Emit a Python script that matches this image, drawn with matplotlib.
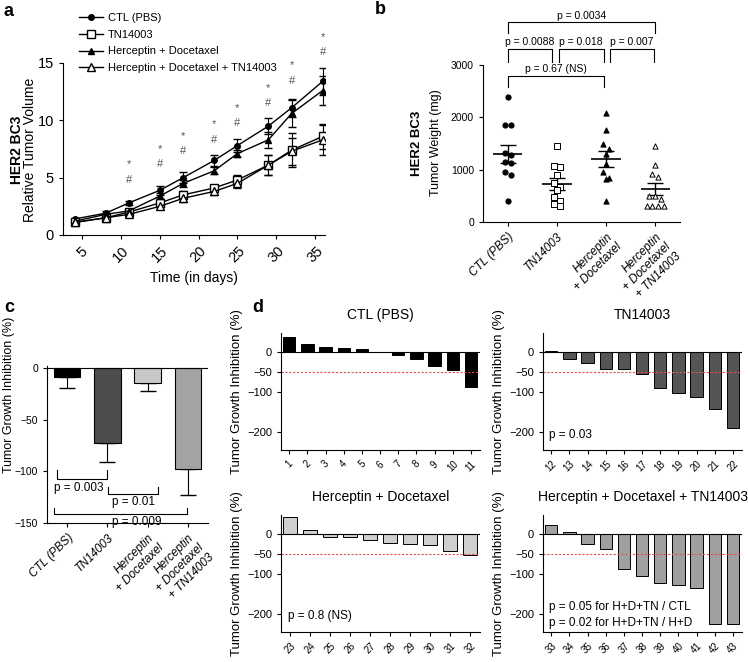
import numpy as np
import matplotlib
matplotlib.use("Agg")
import matplotlib.pyplot as plt
from matplotlib.lines import Line2D

plt.rcParams['font.family'] = ['Liberation Sans', 'DejaVu Sans']

# ---- panel a: relative tumor volume over time ----
days = [4, 8, 11, 15, 18, 22, 25, 29, 32, 36]
ctl_vol = [1.4, 1.9, 2.8, 3.9, 5.0, 6.5, 7.8, 9.5, 11.1, 13.4]
ctl_err = [0.1, 0.15, 0.15, 0.4, 0.5, 0.5, 0.6, 0.7, 0.8, 1.2]
tn_vol = [1.1, 1.5, 2.0, 2.8, 3.5, 4.1, 4.8, 6.1, 7.4, 8.6]
tn_err = [0.1, 0.15, 0.15, 0.3, 0.3, 0.3, 0.4, 0.9, 1.5, 1.1]
hd_vol = [1.2, 1.8, 2.1, 3.4, 4.5, 5.6, 7.1, 8.3, 10.6, 12.6]
hd_err = [0.1, 0.15, 0.15, 0.3, 0.3, 0.3, 0.3, 0.7, 1.2, 1.3]
hdt_vol = [1.1, 1.5, 1.8, 2.5, 3.2, 3.8, 4.5, 6.1, 7.3, 8.3]
hdt_err = [0.1, 0.1, 0.15, 0.25, 0.3, 0.3, 0.4, 0.9, 1.2, 1.3]
sig_days = [11, 15, 18, 22, 25, 29, 32, 36]
star_y = [6.2, 7.5, 8.6, 9.7, 11.1, 12.85, 14.8, 17.3]
hash_y = [4.8, 6.2, 7.3, 8.3, 9.8, 11.5, 13.4, 16.0]

# ---- panel b: tumor weight ----
groups = ['CTL (PBS)', 'TN14003', 'Herceptin\n+ Docetaxel', 'Herceptin\n+ Docetaxel\n+ TN14003']
w_ctl = [2394, 1850, 1850, 1310, 1280, 1150, 1120, 960, 895, 400]
w_tn = [1455, 1070, 1050, 895, 750, 670, 610, 480, 400, 340, 305]
w_hd = [2074, 1755, 1490, 1400, 1290, 1115, 960, 850, 830, 400]
w_hdt = [1455, 1085, 910, 860, 500, 500, 430, 300, 300, 300, 300]
w_mean = [1300, 730, 1200, 635]
w_sem = [170, 110, 150, 115]

# ---- panel c: mean tumor growth inhibition ----
tgi_mean = [-9, -73, -14, -98]
tgi_err = [10, 18, 8, 25]

# ---- panel d: individual tumors ----
ids_ctl = list(range(1, 12))
tgi_ctl = [37, 21, 14, 10, 7, 0, -8, -17, -35, -44, -86]
ids_tn = list(range(12, 23))
tgi_tn = [2, -18, -27, -42, -41, -55, -89, -102, -113, -143, -189]
ids_hd = list(range(23, 33))
tgi_hd = [42, 10, -7, -8, -15, -21, -25, -26, -43, -53]
ids_hdt = list(range(33, 44))
tgi_hdt = [22, 5, -25, -38, -86, -106, -123, -128, -135, -225, -225]

W, H = 748, 662
fig = plt.figure(figsize=(W / 100, H / 100), dpi=100)


def px_axes(l, t, r, b):
    return fig.add_axes([l / W, 1 - b / H, (r - l) / W, (b - t) / H])


def clean(ax):
    ax.spines['top'].set_visible(False)
    ax.spines['right'].set_visible(False)
    ax.tick_params(direction='out', length=3, width=0.8)


# ================= a =================
ax = px_axes(63, 63, 325, 235)
clean(ax)
styles = [
    (ctl_vol, ctl_err, 'o', 'black', 'CTL (PBS)', 4),
    (tn_vol, tn_err, 's', 'white', 'TN14003', 5.5),
    (hd_vol, hd_err, '^', 'black', 'Herceptin + Docetaxel', 4),
    (hdt_vol, hdt_err, '^', 'white', 'Herceptin + Docetaxel + TN14003', 5.5),
]
handles = []
for vals, err, mk, fc, lab, ms in styles:
    ax.errorbar(days, vals, yerr=err, color='black', marker=mk, mfc=fc, mec='black',
                ms=ms, lw=1.0, elinewidth=0.8, capsize=3)
    handles.append(Line2D([], [], color='black', marker=mk, mfc=fc, mec='black', ms=ms, lw=1.0))
for d, sy, hy in zip(sig_days, star_y, hash_y):
    ax.text(d, sy, '*', ha='center', va='center', fontsize=8, color='#555555', clip_on=False)
    ax.text(d, hy, '#', ha='center', va='center', fontsize=8, color='#555555', clip_on=False)
ax.set_xlim(2.5, 36.3)
ax.set_ylim(0, 15)
ax.set_xticks([5, 10, 15, 20, 25, 30, 35])
ax.set_yticks([0, 5, 10, 15])
ax.tick_params(axis='both', labelsize=10.5)
for t in ax.get_xticklabels():
    t.set_rotation(45)
ax.set_xlabel('Time (in days)', fontsize=10)
fig.text(17 / W, 1 - 150 / H, 'HER2 BC3', rotation=90, ha='center', va='center',
         fontsize=10, fontweight='bold')
fig.text(30 / W, 1 - 150 / H, 'Relative Tumor Volume', rotation=90, ha='center', va='center',
         fontsize=10)
fig.legend(handles, [s[4] for s in styles], loc='upper left', bbox_to_anchor=(72 / W, 1 - 6 / H),
           frameon=False, fontsize=8, handlelength=2.2, labelspacing=0.62, handletextpad=0.4,
           borderaxespad=0.2)
fig.text(4 / W, 1 - 12 / H, 'a', fontsize=13, fontweight='bold', va='center')

# ================= b =================
ax = px_axes(483, 65, 680, 222)
clean(ax)


def swarm(vals, pos, step=0.12, tol=120):
    vals = sorted(vals, reverse=True)
    xs, ys = [], []
    i = 0
    while i < len(vals):
        j = i
        while j + 1 < len(vals) and vals[i] - vals[j + 1] < tol:
            j += 1
        n = j - i + 1
        offs = (np.arange(n) - (n - 1) / 2) * step
        xs.extend(pos + offs)
        ys.extend(vals[i:j + 1])
        i = j + 1
    return xs, ys


sets = [(w_ctl, 'o', 'black'), (w_tn, 's', 'white'), (w_hd, '^', 'black'), (w_hdt, '^', 'white')]
for k, (vals, mk, fc) in enumerate(sets):
    xs, ys = swarm(vals, k + 1)
    ax.scatter(xs, ys, marker=mk, s=14, facecolor=fc, edgecolor='black', lw=0.7, zorder=3)
    ax.hlines(w_mean[k], k + 1 - 0.3, k + 1 + 0.3, color='black', lw=1.2)
    ax.errorbar(k + 1, w_mean[k], yerr=w_sem[k], fmt='none', ecolor='black', capsize=6, lw=1.0)
ax.set_xlim(0.5, 4.5)
ax.set_ylim(0, 3000)
ax.set_yticks([0, 1000, 2000, 3000])
ax.set_xticks([1, 2, 3, 4])
ax.set_xticklabels(groups, rotation=45, ha='right', rotation_mode='anchor',
                   fontstyle='italic', fontsize=8.5, multialignment='right')
ax.tick_params(axis='y', labelsize=7.5)
ax.tick_params(axis='x', length=3)


def bracket_down(ax, x1, x2, top, leg, text, ty, fs=7.5):
    ax.plot([x1, x1, x2, x2], [leg, top, top, leg], color='black', lw=0.8, clip_on=False)
    ax.text((x1 + x2) / 2, ty, text, ha='center', va='center', fontsize=fs, clip_on=False)


bracket_down(ax, 1.0, 3.99, 3820, 3610, 'p = 0.0034', 3930)
bracket_down(ax, 1.0, 1.91, 3300, 3060, 'p = 0.0088', 3440)
bracket_down(ax, 2.04, 2.95, 3300, 3060, 'p = 0.018', 3440)
bracket_down(ax, 3.07, 3.97, 3300, 3060, 'p = 0.007', 3440)
bracket_down(ax, 1.0, 2.95, 2790, 2580, 'p = 0.67 (NS)', 2930)
fig.text(417 / W, 1 - 143 / H, 'HER2 BC3', rotation=90, ha='center', va='center',
         fontsize=9.5, fontweight='bold')
fig.text(436 / W, 1 - 143 / H, 'Tumor Weight (mg)', rotation=90, ha='center', va='center',
         fontsize=9)
fig.text(375 / W, 1 - 9 / H, 'b', fontsize=13, fontweight='bold', va='center')

# ================= c =================
ax = px_axes(47, 366, 208, 523)
clean(ax)
c_colors = ['black', '#4d4d4d', '#c8c8c8', '#a3a3a3']
xc = np.arange(1, 5)
ax.bar(xc, tgi_mean, width=0.66, color=c_colors, edgecolor='black', lw=0.8, zorder=2)
ax.errorbar(xc, tgi_mean, yerr=[tgi_err, [0] * 4], fmt='none', ecolor='black', capsize=6,
            lw=0.8, zorder=1)
ax.axhline(0, color='black', lw=0.8)
ax.set_xlim(0.5, 4.5)
ax.set_ylim(-150, 2)
ax.set_yticks([0, -50, -100, -150])
ax.set_xticks([1, 2, 3, 4])
ax.set_xticklabels(groups, rotation=45, ha='right', rotation_mode='anchor',
                   fontstyle='italic', fontsize=8.5, multialignment='right')
ax.tick_params(axis='y', labelsize=7.5)
fig.text(9 / W, 1 - 395 / H, 'Tumor Growth Inhibition (%)', rotation=90, ha='center',
         va='center', fontsize=9)


def bracket_up(ax, x1, x2, bot, leg, text, tx, ty, fs=8.5):
    ax.plot([x1, x1, x2, x2], [leg, bot, bot, leg], color='black', lw=0.8, clip_on=False)
    ax.text(tx, ty, text, ha='center', va='center', fontsize=fs, clip_on=False)


bracket_up(ax, 0.74, 1.98, -107, -99, 'p = 0.003', 1.3, -116)
bracket_up(ax, 2.02, 3.26, -122, -115, 'p = 0.01', 2.64, -129.5)
bracket_up(ax, 0.68, 3.99, -141, -135.5, 'p = 0.009', 2.73, -149)
fig.text(4 / W, 1 - 308 / H, 'c', fontsize=13, fontweight='bold', va='center')
fig.text(252 / W, 1 - 308 / H, 'd', fontsize=13, fontweight='bold', va='center')

# ================= d =================
d_panels = [
    ((281, 333, 480, 450), ids_ctl, tgi_ctl, 'black', 'CTL (PBS)', []),
    ((543, 333, 742, 450), ids_tn, tgi_tn, '#555555', 'TN14003', [('p = 0.03', -207)]),
    ((281, 515, 480, 632), ids_hd, tgi_hd, '#cfcfcf', 'Herceptin + Docetaxel', [('p = 0.8 (NS)', -205)]),
    ((543, 515, 742, 632), ids_hdt, tgi_hdt, '#a0a0a0', 'Herceptin + Docetaxel + TN14003',
     [('p = 0.05 for H+D+TN / CTL', -183), ('p = 0.02 for H+D+TN / H+D', -223)]),
]
for (l, t, r, b), ids, vals, col, title, notes in d_panels:
    ax = px_axes(l, t, r, b)
    clean(ax)
    ax.bar(ids, vals, width=0.68, color=col, edgecolor='black', lw=0.7)
    ax.axhline(0, color='black', lw=0.8)
    ax.axhline(-50, color='#e05050', lw=0.8, ls=(0, (2, 1.5)))
    ax.set_xlim(ids[0] - 0.45, ids[-1] + 0.5)
    ax.set_ylim(-245, 48)
    ax.set_yticks([0, -50, -100, -200])
    ax.set_xticks(ids)
    ax.set_xticklabels([str(i) for i in ids], rotation=45, fontsize=7)
    ax.tick_params(axis='y', labelsize=8)
    ax.set_title(title, fontsize=10, pad=10)
    ax.set_ylabel('Tumor Growth Inhibition (%)', fontsize=9.5, labelpad=3)
    for txt, y in notes:
        ax.text(ids[0] - 0.1, y, txt, ha='left', va='center', fontsize=8.5)

fig.savefig('out.png', dpi=100)
